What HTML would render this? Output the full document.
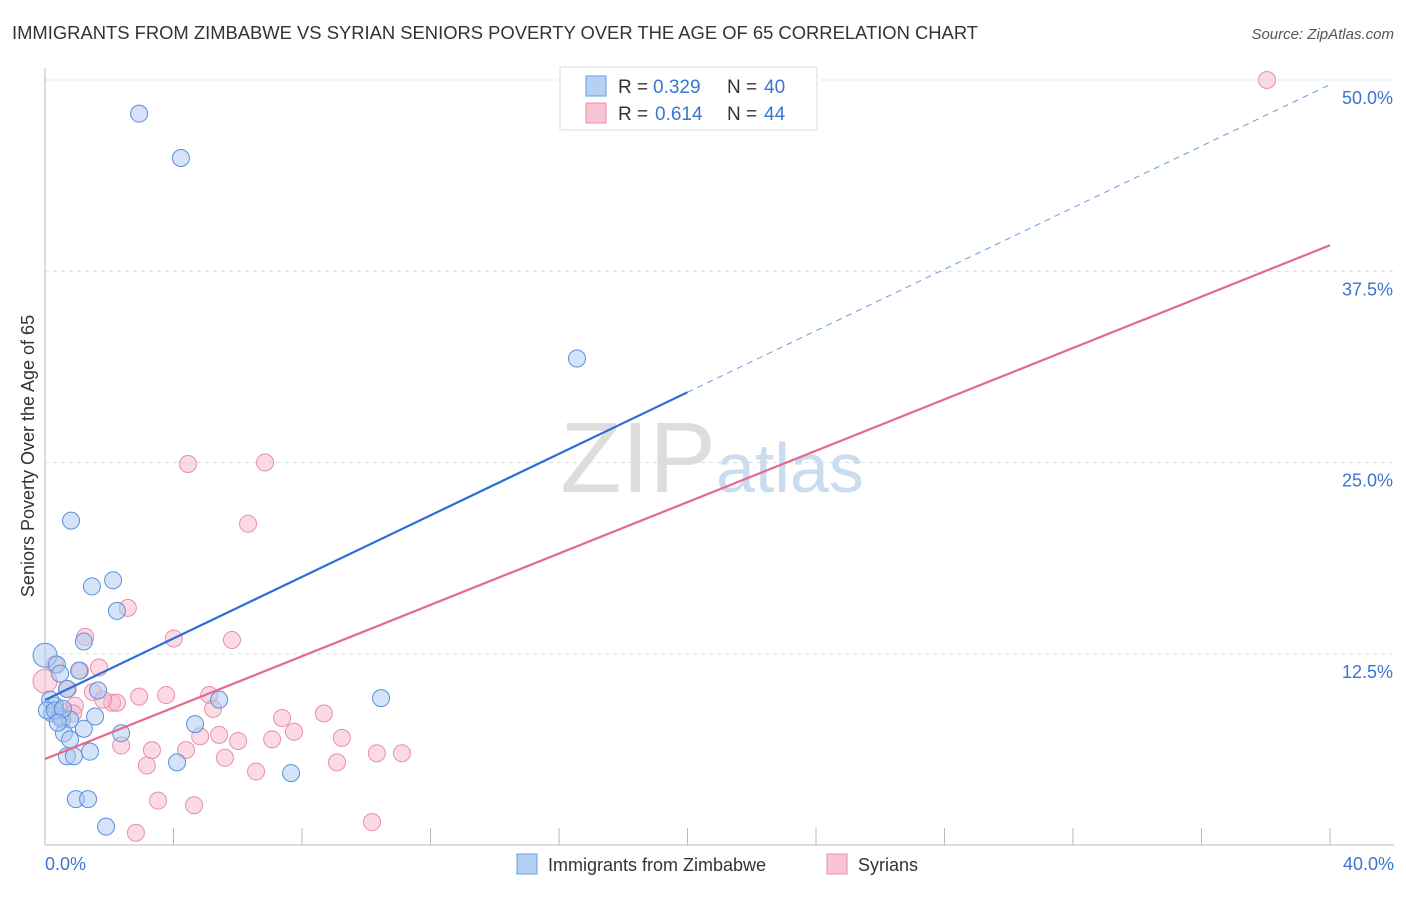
<!DOCTYPE html>
<html><head><meta charset="utf-8"><style>
body{margin:0;background:#fff;font-family:"Liberation Sans",sans-serif;}
svg text{font-family:"Liberation Sans",sans-serif;}
</style></head><body>
<svg id="chart" width="1406" height="892">
<text x="12" y="39" font-size="18.4" fill="#333">IMMIGRANTS FROM ZIMBABWE VS SYRIAN SENIORS POVERTY OVER THE AGE OF 65 CORRELATION CHART</text>
<text x="1394" y="39" font-size="15" fill="#555" font-style="italic" text-anchor="end">Source: ZipAtlas.com</text>
<g id="grid"></g>
<text x="716" y="492" font-size="100" fill="#ddd" text-anchor="end" font-family="Liberation Serif">ZIP</text>
<text x="716" y="492" font-size="70" fill="#c9dcf0">atlas</text>
<g id="marks"></g>
<text transform="translate(34,456) rotate(-90)" font-size="18" fill="#333" text-anchor="middle">Seniors Poverty Over the Age of 65</text>
<text x="45" y="870" font-size="18" fill="#3a76d0">0.0%</text>
<text x="1394" y="870" font-size="18" fill="#3a76d0" text-anchor="end">40.0%</text>
<g>
<rect x="560" y="67" width="257" height="63" fill="#fff" stroke="#ddd"/>
<rect x="586" y="76" width="20" height="20" fill="#b4d0f3" stroke="#6a9ee0"/>
<rect x="586" y="103" width="20" height="20" fill="#f9c4d4" stroke="#e890aa"/>
<text x="618" y="93" font-size="19" fill="#333">R =</text>
<text x="653" y="93" font-size="19" fill="#3a76d0">0.329</text>
<text x="727" y="93" font-size="19" fill="#333">N =</text>
<text x="764" y="93" font-size="19" fill="#3a76d0">40</text>
<text x="618" y="120" font-size="19" fill="#333">R =</text>
<text x="655" y="120" font-size="19" fill="#3a76d0">0.614</text>
<text x="727" y="120" font-size="19" fill="#333">N =</text>
<text x="764" y="120" font-size="19" fill="#3a76d0">44</text>
</g>
<g>
<rect x="517" y="854" width="20" height="20" fill="#b4d0f3" stroke="#6a9ee0"/>
<text x="548" y="871" font-size="18" fill="#333">Immigrants from Zimbabwe</text>
<rect x="827" y="854" width="20" height="20" fill="#f9c4d4" stroke="#e890aa"/>
<text x="858" y="871" font-size="18" fill="#333">Syrians</text>
</g>
</svg>
<script>
const yTicks=[12.5,25,37.5,50];
const yTickLabels=["12.5%","25.0%","37.5%","50.0%"];
const xTicks=[0,4,8,12,16,20,24,28,32,36,40];
const blueX=[2.93,4.23,16.56,0.81,2.12,1.46,2.24,1.21,0,0.37,0.47,1.06,1.65,0.68,5.42,10.46,0.31,0.22,0.47,0.53,1.56,0.78,4.67,1.21,0.59,2.37,0.78,1.40,0.68,0.90,4.11,7.66,0.96,1.34,1.90,0.16,0.06,0.31,0.56,0.40];
const blueY=[47.8,44.9,31.8,21.2,17.3,16.9,15.3,13.3,12.4,11.8,11.2,11.4,10.1,10.2,9.5,9.6,9.1,8.6,8.4,8.2,8.4,8.2,7.9,7.6,7.3,7.3,6.9,6.1,5.8,5.8,5.4,4.7,3.0,3.0,1.2,9.5,8.8,8.8,8.9,8.0];
const pinkX=[38.04,4.45,6.85,6.32,2.58,1.25,4.01,5.82,1.68,1.09,0.31,0.71,0,2.93,3.77,5.11,1.49,2.09,2.24,1.81,0.93,5.23,0.47,8.68,7.38,0.87,4.83,5.42,9.24,7.75,7.07,6.01,2.37,3.33,4.39,10.33,11.11,5.60,3.17,9.09,6.57,3.52,4.64,2.83,10.18];
const pinkY=[50.0,24.9,25.0,21.0,15.5,13.6,13.5,13.4,11.6,11.4,11.8,10.2,10.7,9.7,9.8,9.8,10.0,9.3,9.3,9.5,9.1,8.9,8.8,8.6,8.3,8.6,7.1,7.2,7.0,7.4,6.9,6.8,6.5,6.2,6.2,6.0,6.0,5.7,5.2,5.4,4.8,2.9,2.6,0.8,1.5];
const blueLine=[9.48,49.7,20.0];
const pinkLine=[5.62,39.2];
const X=v=>45+v/40*1285, Y=v=>845-v/50*765;
const NS="http://www.w3.org/2000/svg";
function mk(t,a,p){const e=document.createElementNS(NS,t);for(const k in a)e.setAttribute(k,a[k]);p.appendChild(e);return e;}
const grid=document.getElementById('grid'),marks=document.getElementById('marks');
yTicks.forEach((t,i)=>{
 const l=mk('line',{x1:45,x2:1394,y1:Y(t),y2:Y(t),stroke:'#ddd','stroke-dasharray':'4,4'},grid);
 
 
 const tx=mk('text',{x:1393,y:Y(t)+24,'font-size':18,fill:'#3a76d0','text-anchor':'end'},grid);tx.textContent=yTickLabels[i];
 
 
});
mk('line',{x1:45,x2:45,y1:68,y2:845,stroke:'#bbb'},grid);
mk('line',{x1:45,x2:1394,y1:845,y2:845,stroke:'#bbb'},grid);
xTicks.forEach(t=>{const l=mk('line',{x1:X(t),x2:X(t),y1:828,y2:845,stroke:'#bbb'},grid);
 
 });
function pts(xs,ys,fill,stroke,name){xs.forEach((x,i)=>{const c=mk('circle',{cx:X(x),cy:Y(ys[i]),r:x===0?12:8.5,fill:fill,'fill-opacity':0.5,stroke:stroke,'stroke-width':1},marks);
 
 });}
pts(pinkX,pinkY,'#f7b6c9','#e890aa','syrian-point');
pts(blueX,blueY,'#a9c8f0','#5a90dd','zimbabwe-point');
const bAt=x=>blueLine[0]+(blueLine[1]-blueLine[0])*x/40;
let l1=mk('line',{x1:X(0),y1:Y(bAt(0)),x2:X(blueLine[2]),y2:Y(bAt(blueLine[2])),stroke:'#2a6fd6','stroke-width':2.2},marks);


let l2=mk('line',{x1:X(blueLine[2]),y1:Y(bAt(blueLine[2])),x2:X(40),y2:Y(bAt(40)),stroke:'#6a9ee0','stroke-width':1,'stroke-dasharray':'6,5'},marks);


let l3=mk('line',{x1:X(0),y1:Y(pinkLine[0]),x2:X(40),y2:Y(pinkLine[1]),stroke:'#e5688f','stroke-width':2.2},marks);


</script>
</body></html>
